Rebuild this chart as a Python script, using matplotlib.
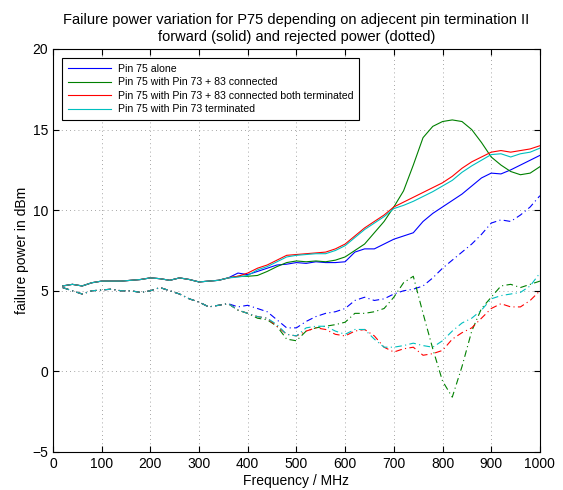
import numpy as np
import matplotlib
matplotlib.use('Agg')
import matplotlib.pyplot as plt

plt.rcParams['font.family'] = ['Liberation Sans', 'DejaVu Sans']

# frequency grid in MHz
freq = list(range(20, 1001, 20))

# shared low-frequency part (20..360 MHz), all traces overlap there
fwd_low = [5.3, 5.4, 5.3, 5.5, 5.6, 5.6, 5.6, 5.65, 5.7, 5.8, 5.75, 5.65, 5.8, 5.7, 5.55, 5.6, 5.65, 5.8]
rej_low = [5.2, 5.0, 4.8, 5.0, 5.05, 5.1, 5.0, 5.0, 4.9, 5.0, 5.2, 5.0, 4.8, 4.5, 4.3, 4.0, 4.1, 4.2]

# forward power, 380..1000 MHz
fwd_alone = [6.1, 6.0, 6.2, 6.4, 6.6, 6.65, 6.75, 6.7, 6.8, 6.75, 6.75, 6.8, 7.4, 7.6, 7.6, 7.9,
             8.2, 8.4, 8.6, 9.3, 9.8, 10.2, 10.6, 11.0, 11.5, 12.0, 12.3, 12.25, 12.5, 12.8, 13.1, 13.4]
fwd_conn = [5.9, 5.9, 5.95, 6.2, 6.5, 6.75, 6.85, 6.8, 6.85, 6.8, 6.9, 7.1, 7.5, 7.9, 8.6, 9.3,
            10.2, 11.2, 12.8, 14.5, 15.2, 15.5, 15.6, 15.5, 15.0, 14.2, 13.3, 12.8, 12.4, 12.2, 12.3, 12.7]
fwd_both = [5.9, 6.1, 6.4, 6.6, 6.9, 7.2, 7.25, 7.3, 7.35, 7.4, 7.6, 7.9, 8.4, 8.9, 9.3, 9.7,
            10.2, 10.5, 10.8, 11.1, 11.4, 11.7, 12.1, 12.6, 13.0, 13.3, 13.6, 13.7, 13.6, 13.7, 13.8, 14.0]
fwd_term = [5.85, 5.95, 6.3, 6.5, 6.8, 7.1, 7.2, 7.25, 7.3, 7.3, 7.5, 7.8, 8.3, 8.8, 9.2, 9.6,
            10.1, 10.3, 10.55, 10.85, 11.15, 11.5, 11.85, 12.35, 12.75, 13.1, 13.45, 13.5, 13.3, 13.5, 13.6, 13.85]

# rejected power, 380..1000 MHz
rej_alone = [4.0, 4.1, 3.9, 3.7, 3.2, 2.7, 2.7, 3.1, 3.4, 3.6, 3.7, 3.9, 4.4, 4.6, 4.4, 4.5,
             4.8, 5.0, 5.1, 5.3, 5.8, 6.4, 6.9, 7.4, 7.9, 8.5, 9.2, 9.4, 9.3, 9.7, 10.2, 10.9]
rej_conn = [3.8, 3.6, 3.3, 3.2, 2.8, 2.0, 1.9, 2.5, 2.7, 2.8, 2.9, 3.05, 3.6, 3.6, 3.7, 3.9,
            4.6, 5.5, 5.9, 3.6, 1.4, -0.6, -1.6, 0.3, 2.5, 3.9, 4.6, 5.3, 5.4, 5.2, 5.4, 5.6]
rej_both = [3.8, 3.6, 3.4, 3.3, 2.8, 2.3, 2.2, 2.5, 2.7, 2.6, 2.3, 2.2, 2.5, 2.6, 2.2, 1.5,
            1.2, 1.4, 1.5, 1.0, 1.1, 1.3, 2.0, 2.4, 2.7, 3.3, 3.9, 4.2, 4.0, 4.0, 4.4, 5.0]
rej_term = [3.8, 3.6, 3.4, 3.3, 2.9, 2.3, 2.2, 2.7, 2.8, 2.8, 2.5, 2.3, 2.6, 2.6, 2.0, 1.5,
            1.5, 1.6, 1.75, 1.6, 1.5, 1.9, 2.5, 3.0, 3.3, 3.8, 4.5, 4.7, 4.8, 4.9, 5.3, 6.1]

labels = ['Pin 75 alone',
          'Pin 75 with Pin 73 + 83 connected',
          'Pin 75 with Pin 73 + 83 connected both terminated',
          'Pin 75 with Pin 73 terminated']
colors = ['b', (0, 0.5, 0), 'r', 'c']

fig = plt.figure(figsize=(5.63, 4.9), dpi=100)
ax = fig.add_axes([0.094, 0.0776, 0.865, 0.8224])

fwd = [fwd_alone, fwd_conn, fwd_both, fwd_term]
rej = [rej_alone, rej_conn, rej_both, rej_term]

# draw forward lines first so they're in the legend
for y, c, lab in zip(fwd, colors, labels):
    ax.plot(freq, fwd_low + y, color=c, lw=0.8, label=lab)
for y, c in zip(rej, colors):
    ax.plot(freq, rej_low + y, color=c, lw=0.8, linestyle=(0, (6, 3, 1, 3)))

ax.set_xlim(0, 1000)
ax.set_ylim(-5, 20)
ax.set_xticks(np.arange(0, 1001, 100))
ax.set_yticks(np.arange(-5, 21, 5))
ax.grid(True, linestyle=(0, (1, 4)), color='#888888', lw=0.6)
ax.tick_params(direction='in', top=True, right=True, labelsize=10, length=4)
for s in ax.spines.values():
    s.set_linewidth(0.8)

ax.set_xlabel('Frequency / MHz', fontsize=10, labelpad=2)
ax.set_ylabel('failure power in dBm', fontsize=10, labelpad=2)
ax.set_title('Failure power variation for P75 depending on adjecent pin termination II\n'
             'forward (solid) and rejected power (dotted)', fontsize=10.5, pad=6)

leg = ax.legend(loc='upper left', fontsize=7.6, fancybox=False, framealpha=1,
                edgecolor='black', handlelength=4.1, handletextpad=0.65,
                borderaxespad=0.9, labelspacing=0.33, borderpad=0.5)
leg.get_frame().set_linewidth(0.8)

plt.savefig('out.png', dpi=100)
